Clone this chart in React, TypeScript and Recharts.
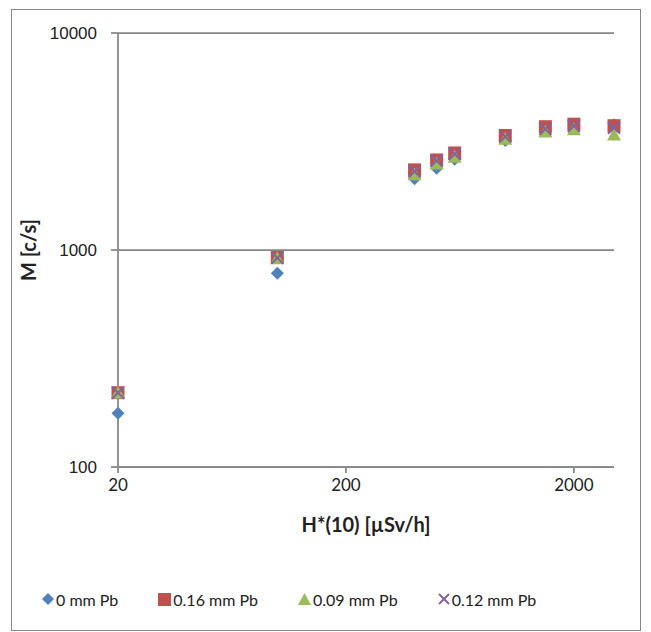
import React from "react";
import { ScatterChart, Scatter, XAxis, YAxis, CartesianGrid, Legend } from "recharts";

const doseRates = [20, 100, 400, 500, 600, 1000, 1500, 2000, 3000];
const pb000 = [177, 781, 2130, 2380, 2620, 3200, 3650, 3750, 3780];
const pb016 = [220, 925, 2340, 2600, 2800, 3370, 3700, 3800, 3740];
const pb009 = [220, 915, 2230, 2500, 2690, 3250, 3510, 3600, 3400];
const pb012 = [220, 920, 2300, 2580, 2770, 3330, 3610, 3730, 3660];
const xTicks = [20, 200, 2000];
const yTicks = [100, 1000, 10000];
const seriesNames = ["0 mm Pb", "0.16 mm Pb", "0.09 mm Pb", "0.12 mm Pb"];
const colors = ["#4F81BD", "#C0504D", "#9BBB59", "#8064A2"];

const toPoints = (ys: number[]) => doseRates.map((x, i) => ({ x, y: ys[i] }));

const Diamond = (p: any) => {
  const { cx, cy } = p;
  const r = 6.5;
  return <path d={`M${cx},${cy - r}L${cx + r},${cy}L${cx},${cy + r}L${cx - r},${cy}Z`} fill={colors[0]} />;
};
const Square = (p: any) => {
  const { cx, cy } = p;
  const s = 6.5;
  return <rect x={cx - s} y={cy - s} width={2 * s} height={2 * s} fill={colors[1]} />;
};
const Triangle = (p: any) => {
  const { cx, cy } = p;
  const s = 7;
  return <path d={`M${cx},${cy - s}L${cx + s},${cy + s * 0.85}L${cx - s},${cy + s * 0.85}Z`} fill={colors[2]} />;
};
const Cross = (p: any) => {
  const { cx, cy } = p;
  const s = 6;
  return (
    <g stroke={colors[3]} strokeWidth={2}>
      <line x1={cx - s} y1={cy - s} x2={cx + s} y2={cy + s} />
      <line x1={cx - s} y1={cy + s} x2={cx + s} y2={cy - s} />
    </g>
  );
};

const legendIcon = (i: number) => {
  if (i === 0) return <svg width={12} height={12}><path d="M6,0L12,6L6,12L0,6Z" fill={colors[0]} /></svg>;
  if (i === 1) return <svg width={13} height={13}><rect x={0} y={0} width={13} height={13} fill={colors[1]} /></svg>;
  if (i === 2) return <svg width={13} height={12}><path d="M6.5,0L13,12L0,12Z" fill={colors[2]} /></svg>;
  return (
    <svg width={12} height={12}>
      <g stroke={colors[3]} strokeWidth={2}>
        <line x1={1} y1={1} x2={11} y2={11} />
        <line x1={1} y1={11} x2={11} y2={1} />
      </g>
    </svg>
  );
};

const LegendContent = () => (
  <div style={{ height: 30, display: "flex", alignItems: "center", gap: 40, paddingLeft: 34, fontFamily: "Lato, sans-serif", fontSize: 16, color: "#222" }}>
    {seriesNames.map((n, i) => (
      <div key={n} style={{ display: "flex", alignItems: "center" }}>
        {legendIcon(i)}
        <span style={{ marginLeft: 2 }}>{n}</span>
      </div>
    ))}
  </div>
);

const XTick = (p: any) => {
  const { x, y, payload } = p;
  return (
    <text x={x} y={y + 16} textAnchor="middle" fontFamily="Lato, sans-serif" fontSize={17} fill="#222">
      {payload.value}
    </text>
  );
};

const YTick = (p: any) => {
  const { x, y, payload } = p;
  return (
    <text x={x} y={y + 6} textAnchor="end" fontFamily="'Liberation Sans', Arial, sans-serif" fontSize={17} fill="#222">
      {payload.value}
    </text>
  );
};

export default function App() {
  const shapes = [Diamond, Square, Triangle, Cross];
  const data = [pb000, pb016, pb009, pb012];
  return (
    <div style={{ position: "relative", width: 635, height: 624 }}>
      <div style={{ position: "absolute", left: 3, top: 1, width: 630, height: 622, border: "1px solid #878787", boxSizing: "border-box" }} />
      <div style={{ position: "absolute", left: 0, top: 0 }}>
        <ScatterChart width={635} height={624} margin={{ top: 25, right: 29, left: 0, bottom: 18 }}>
          <CartesianGrid vertical={false} stroke="#868686" strokeWidth={1.75} />
          <XAxis
            type="number"
            dataKey="x"
            scale="log"
            domain={[20, 3000]}
            ticks={xTicks}
            height={117}
            stroke="#868686"
            strokeWidth={1.75}
            tickSize={6}
            tick={<XTick />}
            label={{ value: "H*(10) [µSv/h]", position: "insideTop", dy: 46, style: { fontFamily: "Lato, sans-serif", fontWeight: 700, fontSize: 20, fill: "#222" } }}
          />
          <YAxis
            type="number"
            dataKey="y"
            scale="log"
            domain={[100, 10000]}
            ticks={yTicks}
            width={110}
            stroke="#868686"
            strokeWidth={1.75}
            tickSize={7}
            tickMargin={14}
            tick={<YTick />}
            label={{ value: "M [c/s]", angle: -90, position: "insideLeft", dx: 16, style: { fontFamily: "Lato, sans-serif", fontWeight: 700, fontSize: 20, fill: "#222", textAnchor: "middle" } }}
          />
          <Legend verticalAlign="bottom" content={<LegendContent />} />
          {data.map((ys, i) => (
            <Scatter key={seriesNames[i]} name={seriesNames[i]} data={toPoints(ys)} fill={colors[i]} shape={shapes[i]} isAnimationActive={false} />
          ))}
        </ScatterChart>
      </div>
    </div>
  );
}
